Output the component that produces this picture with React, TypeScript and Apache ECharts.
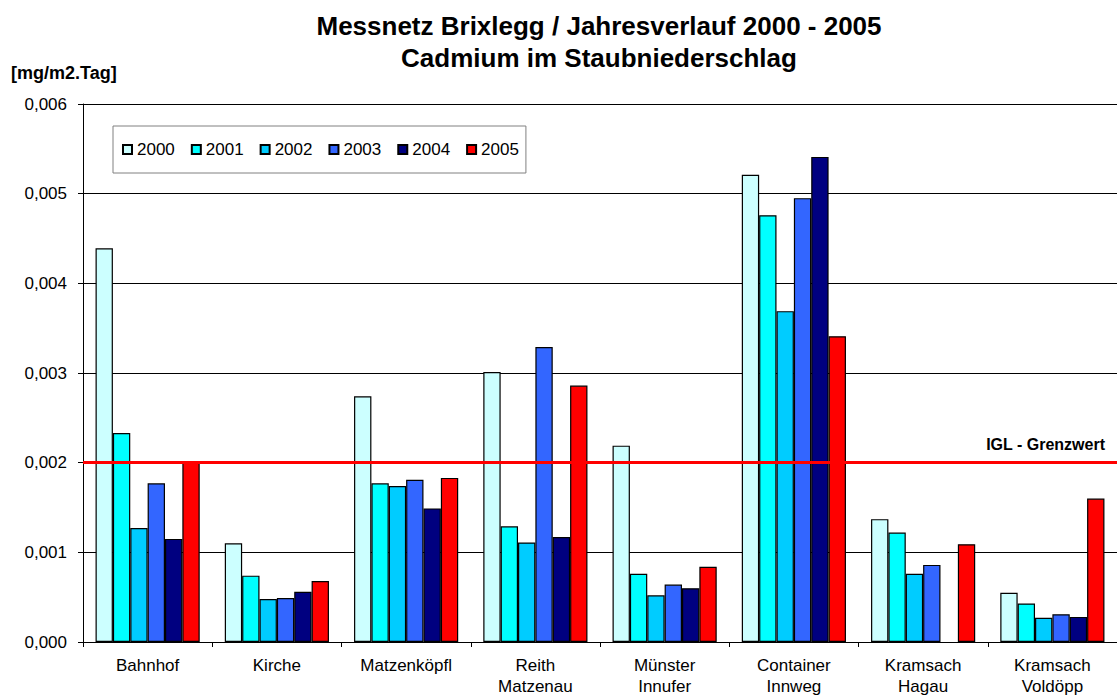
import React, { useEffect, useRef } from "react";
import * as echarts from "echarts";

const categories = [
  "Bahnhof",
  "Kirche",
  "Matzenköpfl",
  "Reith\nMatzenau",
  "Münster\nInnufer",
  "Container\nInnweg",
  "Kramsach\nHagau",
  "Kramsach\nVoldöpp",
];
const years = ["2000", "2001", "2002", "2003", "2004", "2005"];
const v2000 = [0.00439, 0.0011, 0.00274, 0.00301, 0.00219, 0.00521, 0.00137, 0.00055];
const v2001 = [0.00233, 0.00074, 0.00177, 0.00129, 0.00076, 0.00476, 0.00122, 0.00043];
const v2002 = [0.00127, 0.00048, 0.00174, 0.00111, 0.00052, 0.00369, 0.00076, 0.00027];
const v2003 = [0.00177, 0.00049, 0.00181, 0.00329, 0.00064, 0.00495, 0.00086, 0.00031];
const v2004 = [0.00115, 0.00056, 0.00149, 0.00117, 0.0006, 0.00541, null, 0.00028];
const v2005 = [0.00201, 0.00068, 0.00183, 0.00286, 0.00084, 0.00341, 0.00109, 0.0016];
const seriesValues = [v2000, v2001, v2002, v2003, v2004, v2005];
const colors = ["#CCFFFF", "#00FFFF", "#00CCFF", "#3366FF", "#000080", "#FF0000"];
const limitValue = 0.002;
const limitLabel = "IGL - Grenzwert";
const yMin = 0;
const yMax = 0.006;
const yInterval = 0.001;

const FONT = "'Liberation Sans', Arial, Helvetica, sans-serif";

export default function App() {
  const ref = useRef<HTMLDivElement>(null);
  useEffect(() => {
    if (!ref.current) return;
    const chart = echarts.init(ref.current, undefined, { renderer: "svg" });
    const series: any[] = seriesValues.map((vals, i) => {
      const s: any = {
        name: years[i],
        type: "bar",
        data: vals,
        barGap: "0%",
        barCategoryGap: "19.4%",
        itemStyle: { color: colors[i], borderColor: "#000", borderWidth: 1.2 },
        emphasis: { disabled: true },
      };
      if (i === seriesValues.length - 1) {
        s.markLine = {
          silent: true,
          precision: 6,
          symbol: ["none", "none"],
          lineStyle: { color: "#FF0000", width: 3, type: "solid" },
          label: {
            show: true,
            position: "insideEndTop",
            formatter: limitLabel,
            color: "#000",
            fontFamily: FONT,
            fontWeight: "bold",
            fontSize: 16,
            distance: [12, 10],
          },
          data: [{ yAxis: limitValue }],
        };
      }
      return s;
    });
    chart.setOption({
      animation: false,
      backgroundColor: "#fff",
      textStyle: { fontFamily: FONT },
      title: {
        text: "Messnetz Brixlegg / Jahresverlauf 2000 - 2005\nCadmium im Staubniederschlag",
        left: 594,
        top: 5,
        textAlign: "center",
        textStyle: {
          fontFamily: FONT,
          fontSize: 26,
          fontWeight: "bold",
          lineHeight: 32,
          color: "#000",
        },
      },
      graphic: [
        {
          type: "text",
          left: 11,
          top: 64,
          style: {
            text: "[mg/m2.Tag]",
            font: `bold 18px ${FONT}`,
            fill: "#000",
          },
        },
      ],
      legend: {
        left: 113,
        top: 126,
        orient: "horizontal",
        padding: [15, 7, 15, 9],
        itemGap: 16,
        itemWidth: 9,
        itemHeight: 9,
        icon: "rect",
        borderColor: "#808080",
        borderWidth: 1,
        textStyle: { fontFamily: FONT, fontSize: 17, color: "#000" },
        data: years,
      },
      grid: { left: 83, right: -9, top: 104, bottom: 51 },
      xAxis: {
        type: "category",
        data: categories,
        axisLine: { lineStyle: { color: "#000", width: 1 } },
        axisTick: { show: true, length: 5, lineStyle: { color: "#000" } },
        axisLabel: {
          color: "#000",
          fontFamily: FONT,
          fontSize: 17,
          lineHeight: 21,
          margin: 13,
          interval: 0,
        },
        splitLine: { show: false },
      },
      yAxis: {
        type: "value",
        min: yMin,
        max: yMax,
        interval: yInterval,
        axisLine: { show: true, lineStyle: { color: "#000", width: 1 } },
        axisTick: { show: true, length: 5, lineStyle: { color: "#000" } },
        axisLabel: {
          color: "#000",
          fontFamily: FONT,
          fontSize: 17,
          margin: 16,
          formatter: (v: number) => v.toFixed(3).replace(".", ","),
        },
        splitLine: { show: true, lineStyle: { color: "#000", width: 1 } },
      },
      series,
    });
    return () => chart.dispose();
  }, []);
  return (
    <div
      ref={ref}
      style={{ position: "fixed", left: 0, top: 0, width: 1117, height: 697 }}
    />
  );
}
